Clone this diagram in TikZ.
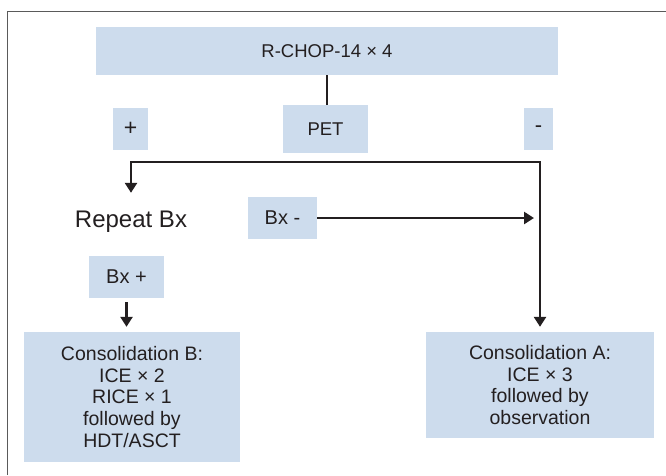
\documentclass[tikz,border=0pt]{standalone}
\usepackage{fontspec}
\setmainfont{Liberation Sans}
\usetikzlibrary{arrows.meta}
\definecolor{boxblue}{RGB}{205,220,237}
\definecolor{ink}{RGB}{35,31,32}
\definecolor{framegray}{RGB}{90,90,90}
\tikzset{
  box/.style={fill=boxblue, text=ink, inner sep=0pt, align=center,
    font=\fontsize{18.5}{21.7}\selectfont},
  bxbox/.style={box, font=\fontsize{20}{22}\selectfont},
  consbox/.style={box, font=\fontsize{19.5}{21.7}\selectfont},
  link/.style={draw=ink, line width=2.5pt},
  tip/.style={link, -{Triangle[length=10pt,width=12pt]}},
}
\begin{document}
\begin{tikzpicture}[x=1pt,y=-1pt]
	\useasboundingbox (0,0) rectangle (666,475);
	\draw[framegray, line width=1.5pt] (7.5,475) -- (7.5,11.5) -- (666,11.5);
	% first row
	\node[box, minimum width=462pt, minimum height=48pt] (rchop) at (327,51) {R-CHOP-14 × 4};
	\node[box, minimum width=85pt, minimum height=48pt] (pet) at (325.5,129) {PET};
	\node[box, minimum width=35pt, minimum height=42pt, font=\fontsize{23}{23}\selectfont] (plus) at (130.5,129) {+};
	\node[box, minimum width=29pt, minimum height=42pt, font=\fontsize{22}{22}\selectfont] (minus) at (538.5,129) {-};
	% biopsy
	\node[text=ink, inner sep=0pt, minimum height=58pt, font=\fontsize{24}{26}\selectfont] (repeat) at (131,222) {Repeat Bx};
	\node[bxbox, minimum width=69pt, minimum height=42pt] (bxminus) at (282.5,218) {Bx -};
	\node[bxbox, minimum width=75pt, minimum height=42pt] (bxplus) at (126.5,277) {Bx +};
	% consolidation
	\node[consbox, minimum width=216pt, minimum height=130pt] (consB) at (132,397) {Consolidation B:\\ICE × 2\\RICE × 1\\followed by\\HDT/ASCT};
	\node[consbox, minimum width=228pt, minimum height=106pt] (consA) at (540,385) {Consolidation A:\\ICE × 3\\followed by\\observation};
	\coordinate (fork) at (335,162);
	% connectors
	\draw[link] (rchop.south) -- (rchop.south |- pet.north);
	\draw[tip, {Triangle[length=10pt,width=12pt]}-{Triangle[length=10pt,width=12pt]}, shorten >=5pt]
		(repeat.north) |- (fork) -| (consA.north);
	\draw[tip, shorten >=6pt] (bxminus.east) -- (bxminus.east -| consA.north);
	\draw[tip, shorten <=4pt, shorten >=5pt] (bxplus.south) -- (bxplus.south |- consB.north);
\end{tikzpicture}
\end{document}
